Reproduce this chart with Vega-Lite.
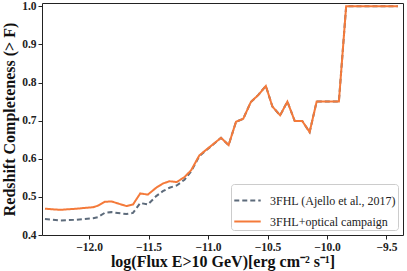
{
  "$schema": "https://vega.github.io/schema/vega-lite/v6.json",
  "autosize": "none",
  "width": 361,
  "height": 232,
  "padding": {"left": 42, "top": 3, "right": 4, "bottom": 36},
  "background": "white",
  "config": {
    "view": {"stroke": "#222222", "strokeWidth": 1},
    "font": "Liberation Serif",
    "axis": {
      "labelFont": "Liberation Serif",
      "labelFontWeight": "bold",
      "labelFontSize": 11.5,
      "labelColor": "#222222",
      "titleFont": "Liberation Serif",
      "titleFontWeight": "bold",
      "titleColor": "#111111",
      "tickColor": "#222222",
      "tickSize": 4,
      "domain": false,
      "grid": false
    },
    "legend": {"labelFont": "Liberation Serif", "labelFontSize": 12, "labelColor": "#222222"}
  },
  "data": {
    "values": [
      {"s": "3FHL (Ajello et al., 2017)", "f": -12.371, "v": 0.442},
      {"s": "3FHL (Ajello et al., 2017)", "f": -12.245, "v": 0.438},
      {"s": "3FHL (Ajello et al., 2017)", "f": -12.106, "v": 0.440},
      {"s": "3FHL (Ajello et al., 2017)", "f": -11.966, "v": 0.444},
      {"s": "3FHL (Ajello et al., 2017)", "f": -11.925, "v": 0.447},
      {"s": "3FHL (Ajello et al., 2017)", "f": -11.869, "v": 0.458},
      {"s": "3FHL (Ajello et al., 2017)", "f": -11.812, "v": 0.460},
      {"s": "3FHL (Ajello et al., 2017)", "f": -11.687, "v": 0.455},
      {"s": "3FHL (Ajello et al., 2017)", "f": -11.631, "v": 0.458},
      {"s": "3FHL (Ajello et al., 2017)", "f": -11.570, "v": 0.484},
      {"s": "3FHL (Ajello et al., 2017)", "f": -11.506, "v": 0.480},
      {"s": "3FHL (Ajello et al., 2017)", "f": -11.436, "v": 0.502},
      {"s": "3FHL (Ajello et al., 2017)", "f": -11.380, "v": 0.515},
      {"s": "3FHL (Ajello et al., 2017)", "f": -11.324, "v": 0.524},
      {"s": "3FHL (Ajello et al., 2017)", "f": -11.263, "v": 0.530},
      {"s": "3FHL (Ajello et al., 2017)", "f": -11.198, "v": 0.545},
      {"s": "3FHL (Ajello et al., 2017)", "f": -11.142, "v": 0.567},
      {"s": "3FHL (Ajello et al., 2017)", "f": -11.073, "v": 0.607},
      {"s": "3FHL (Ajello et al., 2017)", "f": -10.891, "v": 0.655},
      {"s": "3FHL (Ajello et al., 2017)", "f": -10.827, "v": 0.636},
      {"s": "3FHL (Ajello et al., 2017)", "f": -10.765, "v": 0.697},
      {"s": "3FHL (Ajello et al., 2017)", "f": -10.704, "v": 0.705},
      {"s": "3FHL (Ajello et al., 2017)", "f": -10.640, "v": 0.749},
      {"s": "3FHL (Ajello et al., 2017)", "f": -10.579, "v": 0.767},
      {"s": "3FHL (Ajello et al., 2017)", "f": -10.514, "v": 0.791},
      {"s": "3FHL (Ajello et al., 2017)", "f": -10.459, "v": 0.737},
      {"s": "3FHL (Ajello et al., 2017)", "f": -10.394, "v": 0.714},
      {"s": "3FHL (Ajello et al., 2017)", "f": -10.333, "v": 0.750},
      {"s": "3FHL (Ajello et al., 2017)", "f": -10.271, "v": 0.699},
      {"s": "3FHL (Ajello et al., 2017)", "f": -10.208, "v": 0.699},
      {"s": "3FHL (Ajello et al., 2017)", "f": -10.146, "v": 0.670},
      {"s": "3FHL (Ajello et al., 2017)", "f": -10.087, "v": 0.750},
      {"s": "3FHL (Ajello et al., 2017)", "f": -9.900, "v": 0.750},
      {"s": "3FHL (Ajello et al., 2017)", "f": -9.839, "v": 1.0},
      {"s": "3FHL (Ajello et al., 2017)", "f": -9.404, "v": 1.0},
      {"s": "3FHL+optical campaign", "f": -12.371, "v": 0.469},
      {"s": "3FHL+optical campaign", "f": -12.245, "v": 0.466},
      {"s": "3FHL+optical campaign", "f": -12.106, "v": 0.469},
      {"s": "3FHL+optical campaign", "f": -11.966, "v": 0.473},
      {"s": "3FHL+optical campaign", "f": -11.925, "v": 0.477},
      {"s": "3FHL+optical campaign", "f": -11.869, "v": 0.487},
      {"s": "3FHL+optical campaign", "f": -11.812, "v": 0.488},
      {"s": "3FHL+optical campaign", "f": -11.687, "v": 0.476},
      {"s": "3FHL+optical campaign", "f": -11.631, "v": 0.480},
      {"s": "3FHL+optical campaign", "f": -11.570, "v": 0.509},
      {"s": "3FHL+optical campaign", "f": -11.506, "v": 0.506},
      {"s": "3FHL+optical campaign", "f": -11.436, "v": 0.524},
      {"s": "3FHL+optical campaign", "f": -11.380, "v": 0.535},
      {"s": "3FHL+optical campaign", "f": -11.324, "v": 0.541},
      {"s": "3FHL+optical campaign", "f": -11.263, "v": 0.539},
      {"s": "3FHL+optical campaign", "f": -11.198, "v": 0.552},
      {"s": "3FHL+optical campaign", "f": -11.142, "v": 0.570},
      {"s": "3FHL+optical campaign", "f": -11.073, "v": 0.609},
      {"s": "3FHL+optical campaign", "f": -10.891, "v": 0.655},
      {"s": "3FHL+optical campaign", "f": -10.827, "v": 0.636},
      {"s": "3FHL+optical campaign", "f": -10.765, "v": 0.697},
      {"s": "3FHL+optical campaign", "f": -10.704, "v": 0.705},
      {"s": "3FHL+optical campaign", "f": -10.640, "v": 0.749},
      {"s": "3FHL+optical campaign", "f": -10.579, "v": 0.767},
      {"s": "3FHL+optical campaign", "f": -10.514, "v": 0.791},
      {"s": "3FHL+optical campaign", "f": -10.459, "v": 0.737},
      {"s": "3FHL+optical campaign", "f": -10.394, "v": 0.714},
      {"s": "3FHL+optical campaign", "f": -10.333, "v": 0.750},
      {"s": "3FHL+optical campaign", "f": -10.271, "v": 0.699},
      {"s": "3FHL+optical campaign", "f": -10.208, "v": 0.699},
      {"s": "3FHL+optical campaign", "f": -10.146, "v": 0.670},
      {"s": "3FHL+optical campaign", "f": -10.087, "v": 0.750},
      {"s": "3FHL+optical campaign", "f": -9.900, "v": 0.750},
      {"s": "3FHL+optical campaign", "f": -9.839, "v": 1.0},
      {"s": "3FHL+optical campaign", "f": -9.404, "v": 1.0}
    ]
  },
  "mark": {"type": "line", "strokeWidth": 2, "clip": true},
  "encoding": {
    "x": {
      "field": "f", "type": "quantitative",
      "scale": {"domain": [-12.396, -9.361], "nice": false, "zero": false},
      "axis": {"values": [-12.0, -11.5, -11.0, -10.5, -10.0, -9.5], "format": ".1f", "labelPadding": 2,
               "title": "log(Flux E>10 GeV)[erg cm⁻² s⁻¹]", "titleFontSize": 16, "titlePadding": 1}
    },
    "y": {
      "field": "v", "type": "quantitative",
      "scale": {"domain": [0.4, 1.0087], "nice": false, "zero": false},
      "axis": {"values": [0.4, 0.5, 0.6, 0.7, 0.8, 0.9, 1.0], "format": ".1f", "labelPadding": 2,
               "title": "Redshift Completeness (> F)", "titleFontSize": 16, "titlePadding": 4}
    },
    "color": {
      "field": "s", "type": "nominal",
      "scale": {"domain": ["3FHL (Ajello et al., 2017)", "3FHL+optical campaign"], "range": ["#5d6b7b", "#f47a3a"]},
      "legend": {
        "title": null, "orient": "bottom-right", "offset": 5,
        "symbolType": "stroke", "symbolSize": 700, "symbolStrokeWidth": 2,
        "labelFont": "Liberation Serif", "labelFontSize": 12, "labelColor": "#222222",
        "strokeColor": "#cccccc", "fillColor": "rgba(255,255,255,0.85)", "cornerRadius": 3,
        "padding": 2, "rowPadding": -8, "labelOffset": 8
      }
    },
    "strokeDash": {
      "field": "s", "type": "nominal",
      "scale": {"domain": ["3FHL (Ajello et al., 2017)", "3FHL+optical campaign"], "range": [[5, 3], [1, 0]]},
      "legend": {"title": null}
    }
  }
}
